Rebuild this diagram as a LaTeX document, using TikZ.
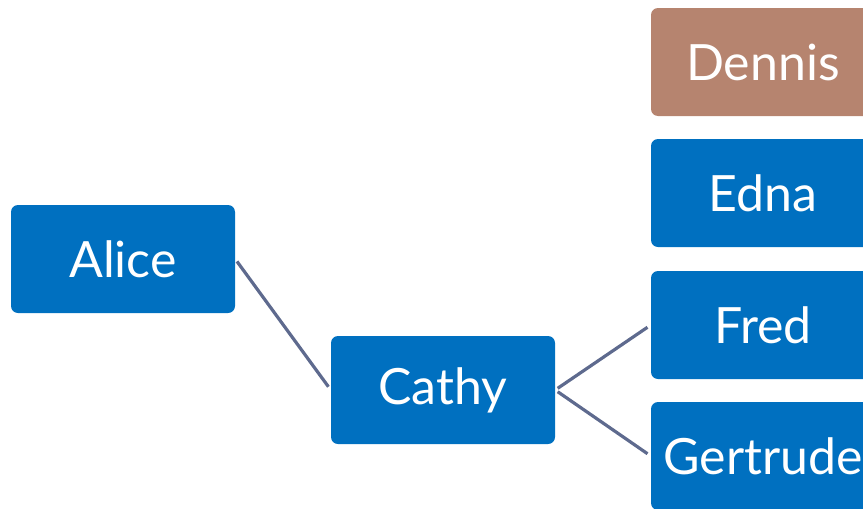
\documentclass[tikz,border=0pt]{standalone}
\usepackage{fontspec}
\setmainfont{Lato}
\definecolor{boxblue}{HTML}{0070C0}
\definecolor{boxbrown}{HTML}{B6846F}
\definecolor{linkgray}{HTML}{5E6A8E}
\tikzset{
  person/.style={rectangle,rounded corners=7pt,fill=boxblue,text=white,
    minimum width=224pt,minimum height=108pt,inner sep=0pt,
    font=\fontsize{50}{58}\selectfont},
  link/.style={draw=linkgray,line width=3.2pt,shorten <=3pt,shorten >=4pt}
}
\begin{document}
\begin{tikzpicture}[x=1pt,y=-1pt]
\useasboundingbox (0,0) rectangle (863,509);
\clip (0,0) rectangle (863,509);
\node[person] (alice) at (123,259) {Alice};
\node[person] (cathy) at (443,390) {Cathy};
\node[person,fill=boxbrown] (dennis) at (763,62) {Dennis};
\node[person] (edna) at (763,193) {Edna};
\node[person] (fred) at (763,325) {Fred};
\node[person] (gertrude) at (763,456) {Gertrude};

\draw[link] (alice.east) -- (cathy.west);
\draw[link] (cathy.east) -- (fred.west);
\draw[link] (cathy.east) -- (gertrude.west);
\end{tikzpicture}
\end{document}
